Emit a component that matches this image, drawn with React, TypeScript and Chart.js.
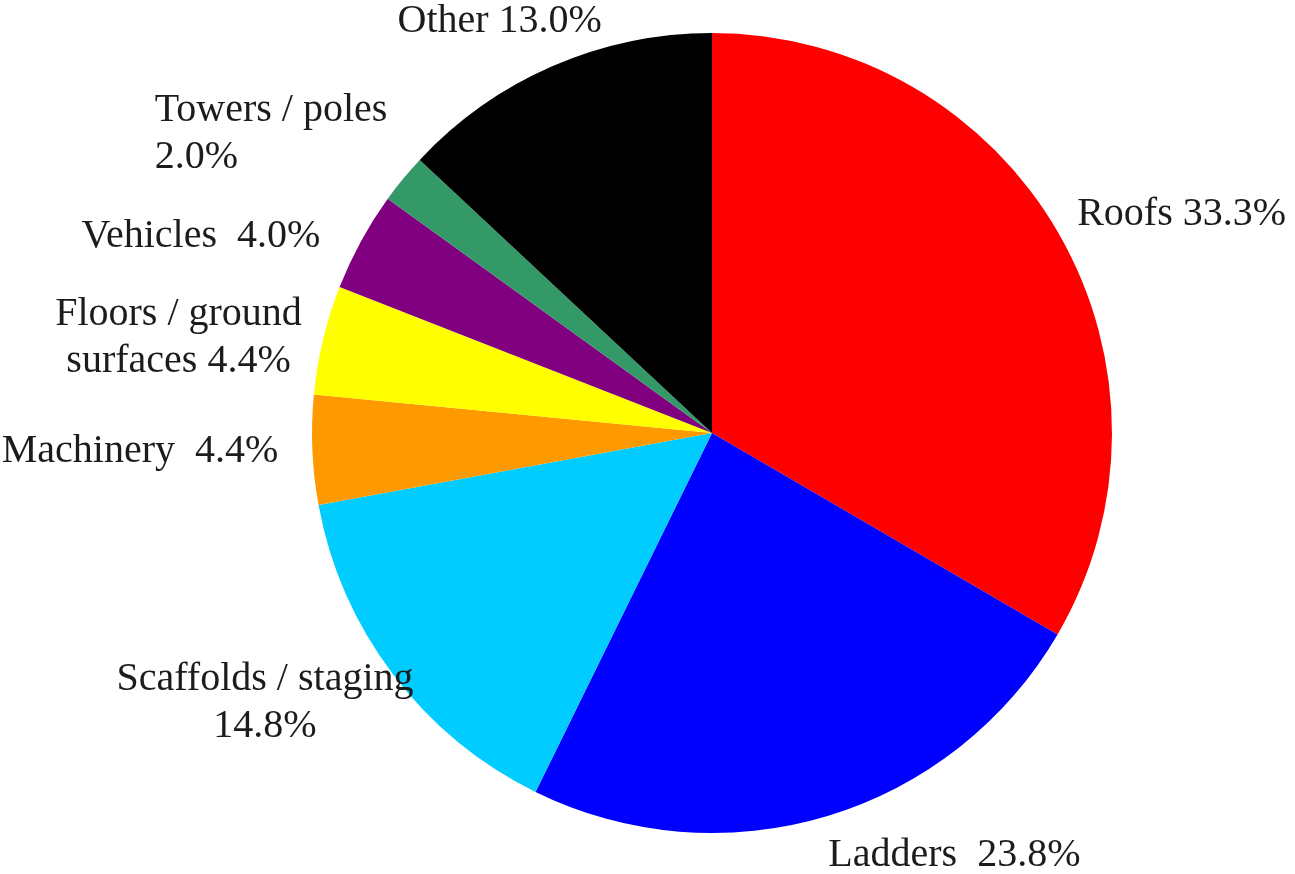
import React, { useEffect, useRef } from "react";
import { Chart, registerables } from "chart.js";

Chart.register(...registerables);

const categories: string[][] = [
  ["Roofs 33.3%"],
  ["Ladders  23.8%"],
  ["Scaffolds / staging", "14.8%"],
  ["Machinery  4.4%"],
  ["Floors / ground", "surfaces 4.4%"],
  ["Vehicles  4.0%"],
  ["Towers / poles", "2.0%"],
  ["Other 13.0%"],
];
const values: number[] = [33.3, 23.8, 14.8, 4.4, 4.4, 4.0, 2.0, 13.0];
const colors: string[] = [
  "#FF0000",
  "#0000FF",
  "#00CCFF",
  "#FF9900",
  "#FFFF00",
  "#800080",
  "#339966",
  "#000000",
];

// label layout: alignment of the text block and offset from the anchor point
type LabelLayout = { align: "left" | "right" | "center"; dx: number; dy: number; lineAlign?: "left" | "right" | "center" };
const labelLayout: LabelLayout[] = [
  { align: "left", dx: 1, dy: -9 },
  { align: "left", dx: -5, dy: 20 },
  { align: "center", dx: -112, dy: 17 },
  { align: "right", dx: -14, dy: 1 },
  { align: "center", dx: -125, dy: 3, lineAlign: "center" },
  { align: "right", dx: -23, dy: 5 },
  { align: "left", dx: -233, dy: -32 },
  { align: "center", dx: -45, dy: -26 },
];

const FONT_SIZE = 40;
const H_SCALE = 1.0;
const LINE_HEIGHT = 47;
const LABEL_GAP = 20;

const labelPlugin = {
  id: "outsideLabels",
  afterDatasetsDraw(chart: any) {
    const ctx: CanvasRenderingContext2D = chart.ctx;
    const meta = chart.getDatasetMeta(0);
    ctx.save();
    ctx.font = `${FONT_SIZE}px "Liberation Serif", "Times New Roman", serif`;
    ctx.fillStyle = "#1c1c1c";
    ctx.textBaseline = "middle";
    ctx.textAlign = "left";
    meta.data.forEach((arc: any, i: number) => {
      const p = arc.getProps(["x", "y", "startAngle", "endAngle", "outerRadius"], true);
      const mid = (p.startAngle + p.endAngle) / 2;
      const r = p.outerRadius + LABEL_GAP;
      const ax = p.x + Math.cos(mid) * r + labelLayout[i].dx;
      const ay = p.y + Math.sin(mid) * r + labelLayout[i].dy;
      const lines = categories[i];
      const widths = lines.map((l) => ctx.measureText(l).width * H_SCALE);
      const blockW = Math.max(...widths);
      let left = ax;
      if (labelLayout[i].align === "right") left = ax - blockW;
      else if (labelLayout[i].align === "center") left = ax - blockW / 2;
      const lineAlign = labelLayout[i].lineAlign ?? (lines.length > 1 && labelLayout[i].align !== "left" ? "center" : "left");
      const top = ay - ((lines.length - 1) * LINE_HEIGHT) / 2;
      lines.forEach((line, j) => {
        let x = left;
        if (lineAlign === "center") x = left + (blockW - widths[j]) / 2;
        else if (lineAlign === "right") x = left + blockW - widths[j];
        ctx.save();
        ctx.translate(x, top + j * LINE_HEIGHT);
        ctx.scale(H_SCALE, 1);
        ctx.fillText(line, 0, 0);
        ctx.restore();
      });
    });
    ctx.restore();
  },
};

export default function App() {
  const canvasRef = useRef<HTMLCanvasElement | null>(null);

  useEffect(() => {
    if (!canvasRef.current) return;
    const chart = new Chart(canvasRef.current, {
      type: "pie",
      data: {
        labels: categories.map((c) => c.join(" ")),
        datasets: [
          {
            data: values,
            backgroundColor: colors,
            borderWidth: 0,
          },
        ],
      },
      options: {
        responsive: false,
        animation: false,
        devicePixelRatio: 1,
        layout: { padding: { left: 312, right: 183, top: 33, bottom: 41 } },
        plugins: {
          legend: { display: false },
          tooltip: { enabled: false },
        },
      },
      plugins: [labelPlugin],
    });
    return () => chart.destroy();
  }, []);

  return (
    <div style={{ position: "absolute", left: 0, top: 0, width: 1295, height: 874, background: "#fff" }}>
      <canvas ref={canvasRef} width={1295} height={874} />
    </div>
  );
}
